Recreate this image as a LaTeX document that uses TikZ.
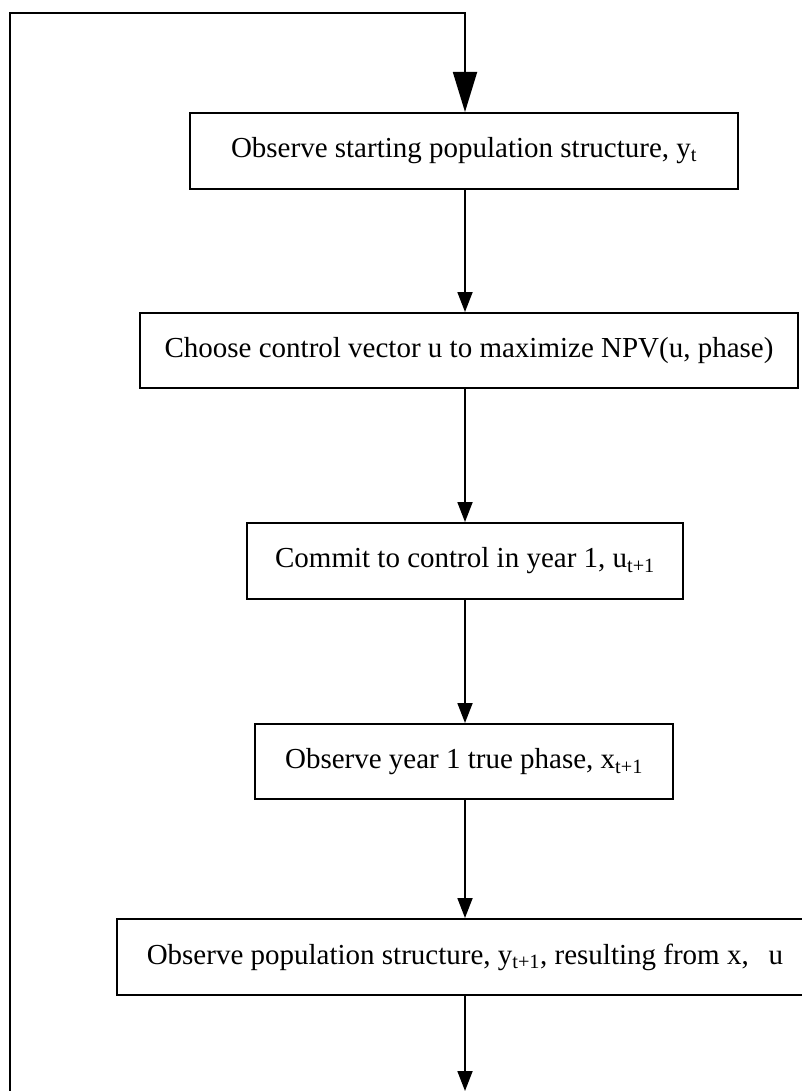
\documentclass[tikz,border=0pt]{standalone}
\usepackage{fontspec}
\setmainfont{Liberation Serif}
\usetikzlibrary{arrows.meta}
\begin{document}
\begin{tikzpicture}[x=1pt,y=-1pt,
  box/.style={draw,line width=2pt,rectangle,inner sep=0pt,font=\fontsize{29}{34}\selectfont},
  flow/.style={line width=1.8pt,-{Triangle[length=20pt,width=15pt]}},
  bigflow/.style={line width=1.8pt,line join=miter,-{Triangle[length=40pt,width=24pt]}}]
\useasboundingbox (0,0) rectangle (802,1091);
\clip (0,0) rectangle (802,1091);
\coordinate (col) at (465,0);
\node[box,minimum width=548pt,minimum height=76pt] (b1) at (464,151) {Observe starting population structure, y\textsubscript{t}};
\node[box,minimum width=658pt,minimum height=75pt] (b2) at (469,350.5) {Choose control vector u to maximize NPV(u, phase)};
\node[box,minimum width=436pt,minimum height=76pt] (b3) at (465,561) {Commit to control in year 1, u\textsubscript{t+1}};
\node[box,minimum width=418pt,minimum height=75pt] (b4) at (464,761.5) {Observe year 1 true phase, x\textsubscript{t+1}};
\node[box,minimum width=696pt,minimum height=76pt] (b5) at (465,957) {Observe population structure, y\textsubscript{t+1}, resulting from x,\hspace{20pt}u};
\coordinate (loopbot) at (10,1095);
\coordinate (looptop) at (10,13);
\coordinate (endpt) at (465,1091);
\draw[bigflow] (loopbot) -- (looptop) -- (col |- looptop) -- (b1.north -| col);
\draw[flow] (b1.south -| col) -- (b2.north -| col);
\draw[flow] (b2.south -| col) -- (b3.north -| col);
\draw[flow] (b3.south -| col) -- (b4.north -| col);
\draw[flow] (b4.south -| col) -- (b5.north -| col);
\draw[flow] (b5.south -| col) -- (endpt);
\end{tikzpicture}
\end{document}
